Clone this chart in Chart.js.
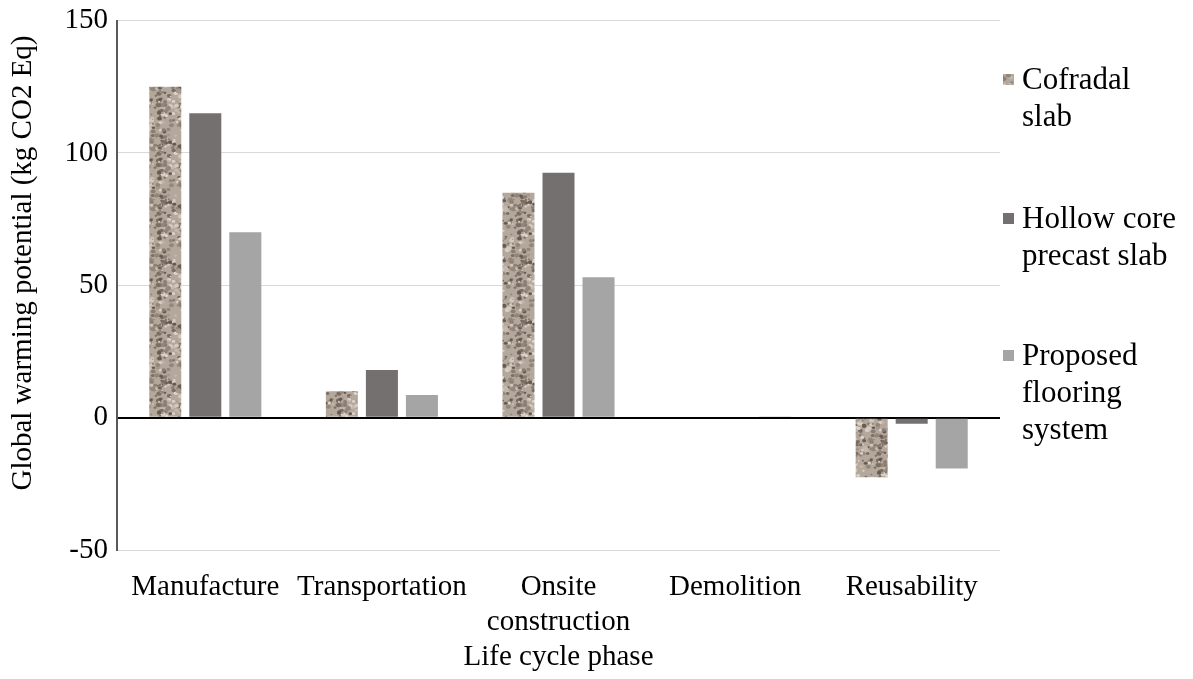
<!DOCTYPE html>
<html>
<head>
<meta charset="utf-8">
<script src="https://cdn.jsdelivr.net/npm/chart.js@4.4.1/dist/chart.umd.min.js"></script>
<style>
  html,body{margin:0;padding:0;background:#fff;}
  #wrap{position:relative;width:1193px;height:679px;}
  #c{position:absolute;left:0;top:0;}
  #legend{position:absolute;left:1003px;top:60px;font-family:"Liberation Serif","Times New Roman",serif;font-size:31px;color:#000;line-height:37px;}
  .item{position:absolute;left:0;white-space:nowrap;}
  .sw{position:absolute;left:0;top:14px;width:11px;height:11px;}
  .txt{position:absolute;left:19px;top:0;}
</style>
</head>
<body>
<div id="wrap">
  <canvas id="c" width="1193" height="679"></canvas>
  <div id="legend"></div>
</div>
<script>
// ---- data ----
const categories = ['Manufacture', 'Transportation', ['Onsite', 'construction'], 'Demolition', 'Reusability'];
const seriesNames = ['Cofradal slab', 'Hollow core precast slab', 'Proposed flooring system'];
const legendLines = [['Cofradal', 'slab'], ['Hollow core', 'precast slab'], ['Proposed', 'flooring', 'system']];
const cofradal = [125, 10, 85, 0.3, -22.5];
const hollowCore = [115, 18, 92.5, 0.3, -2.3];
const proposed = [70, 8.6, 53, 0.2, -19.2];
const yTicks = [-50, 0, 50, 100, 150];
const yTitle = 'Global warming potential (kg CO2 Eq)';
const xTitle = 'Life cycle phase';

// ---- granite texture (deterministic) ----
function makeGraniteCanvas() {
  const N = 60;
  const c = document.createElement('canvas');
  c.width = N; c.height = N;
  const g = c.getContext('2d');
  g.fillStyle = '#b4a89c';
  g.fillRect(0, 0, N, N);
  let s = 24681;
  const rnd = () => { s = (s * 1103515245 + 12345) & 0x7fffffff; return s / 0x7fffffff; };
  const cols = ['#7a6d63', '#948779', '#d3c9bf', '#c4b8ac', '#665a51', '#a4978b', '#ddd4cb', '#8a7d72'];
  g.filter = 'blur(0.7px)';
  for (let i = 0; i < 260; i++) {
    const x = rnd() * N, y = rnd() * N, r = 0.8 + rnd() * 1.9;
    g.fillStyle = cols[Math.floor(rnd() * cols.length)];
    for (const dx of [-N, 0, N]) for (const dy of [-N, 0, N]) {
      g.beginPath(); g.ellipse(x + dx, y + dy, r, r * 0.8, 0, 0, Math.PI * 2); g.fill();
    }
  }
  return c;
}
const graniteCanvas = makeGraniteCanvas();
const ctx = document.getElementById('c').getContext('2d');
const granite = ctx.createPattern(graniteCanvas, 'repeat');
const colors = [granite, '#747070', '#a5a5a5'];

// ---- legend (HTML, wrapped text) ----
const legendEl = document.getElementById('legend');
const itemTops = [0, 139, 276];
legendLines.forEach((lines, i) => {
  const it = document.createElement('div');
  it.className = 'item';
  it.style.top = itemTops[i] + 'px';
  const sw = document.createElement('div');
  sw.className = 'sw';
  if (i === 0) sw.style.background = 'url(' + graniteCanvas.toDataURL() + ')';
  else sw.style.background = colors[i];
  const t = document.createElement('div');
  t.className = 'txt';
  t.innerHTML = lines.join('<br>');
  it.appendChild(sw); it.appendChild(t);
  legendEl.appendChild(it);
});

const FONT = "'Liberation Serif', 'Times New Roman', serif";
const FS = 29;
const datasets = [cofradal, hollowCore, proposed].map((d, i) => ({
  label: seriesNames[i],
  data: d,
  backgroundColor: colors[i],
  borderWidth: 0,
  categoryPercentage: 0.68,
  barPercentage: 0.8
}));

// y-axis title drawn at the position used in the reference
const yTitlePlugin = {
  id: 'yTitle',
  afterDraw(chart) {
    const c = chart.ctx;
    c.save();
    c.translate(23, 263);
    c.rotate(-Math.PI / 2);
    c.font = FS + 'px ' + FONT;
    c.fillStyle = '#000';
    c.textAlign = 'center';
    c.textBaseline = 'middle';
    c.fillText(yTitle, 0, 0);
    c.restore();
  }
};

new Chart(ctx, {
  type: 'bar',
  data: { labels: categories, datasets },
  plugins: [yTitlePlugin],
  options: {
    responsive: false,
    animation: false,
    layout: { padding: { top: 19, right: 193, left: 0, bottom: 0 } },
    plugins: { legend: { display: false }, tooltip: { enabled: false } },
    scales: {
      x: {
        grid: { display: false, drawTicks: false },
        border: { display: false },
        ticks: { color: '#000', font: { family: FONT, size: FS, lineHeight: 1.2 }, maxRotation: 0, autoSkip: false, padding: 20 },
        title: { display: true, text: xTitle, color: '#000', font: { family: FONT, size: FS }, padding: { top: 0 } },
        afterFit: s => { s.height = 129; }
      },
      y: {
        min: -50, max: 150,
        afterBuildTicks: s => { s.ticks = yTicks.map(v => ({ value: v })); },
        grid: {
          color: c => c.tick && c.tick.value === 0 ? '#000' : '#d9d9d9',
          lineWidth: c => c.tick && c.tick.value === 0 ? 2 : 1,
          drawTicks: false
        },
        border: { display: true, color: '#595959', width: 2 },
        ticks: { color: '#000', font: { family: FONT, size: FS, lineHeight: 0.8 }, padding: 9 },
        title: { display: false },
        afterFit: s => { s.width = 117; }
      }
    }
  }
});
</script>
</body>
</html>
